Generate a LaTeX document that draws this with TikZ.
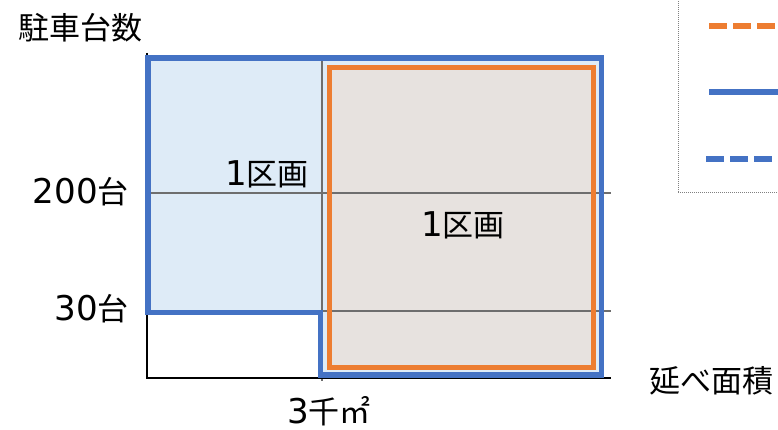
\documentclass[tikz,border=0pt]{standalone}
\usepackage{fontspec}
\setmainfont{Noto Sans CJK JP}
\newfontfamily\digitfont{DejaVu Sans}[Scale=1.1]
\newcommand{\dg}[1]{{\digitfont #1}}
\definecolor{chartblue}{HTML}{4472C4}
\definecolor{chartorange}{HTML}{ED7D31}
\definecolor{areablue}{HTML}{DEEBF7}
\definecolor{areagrey}{HTML}{E7E2DF}
\definecolor{gridgrey}{HTML}{6E6E6E}
\tikzset{
  lbl/.style={inner sep=0pt, font=\fontsize{31}{36}\selectfont},
  gridline/.style={gridgrey, line width=1.2pt},
  legline/.style={line width=6pt}
}
\begin{document}
\begin{tikzpicture}[x=1pt, y=-1pt]
        \useasboundingbox (0,0) rectangle (778,430);
        \clip (0,0) rectangle (778,430);

        % Areas
        \fill[areablue] (148,58) -- (601.5,58) -- (601.5,375) -- (320.5,375) -- (320.5,312.5) -- (148,312.5) -- cycle;
        \fill[areagrey] (329,67.5) rectangle (593.5,367.5);

        % Grid and axes
        \draw[gridline] (147,193) -- (611,193);
        \draw[gridline] (147,311) -- (611,311);
        \draw[gridline] (322,58) -- (322,381);
        \draw[black, line width=1.2pt] (147,53) -- (147,378) -- (611,378);

        % Frames
        \draw[chartblue, line width=5.5pt] (148,58) -- (601.5,58) -- (601.5,375) -- (320.5,375) -- (320.5,312.5) -- (148,312.5) -- cycle;
        \draw[chartorange, line width=5pt] (329,67.5) rectangle (593.5,367.5);

        % Labels
        \node[lbl] (yname) at (80,28) {駐車台数};
        \node[lbl, anchor=east] (y200) at (129,192) {\dg{200}台};
        \node[lbl, anchor=east] (y30) at (129,309) {\dg{30}台};
        \node[lbl] (xname) at (711,381) {延べ面積};
        \node[lbl, anchor=base] (x3) at (329,423) {\dg{3}千㎡};
        \node[lbl] (lotA) at (267,174) {\dg{1}区画};
        \node[lbl] (lotB) at (463,225) {\dg{1}区画};

        % Legend
        \draw[gray, densely dotted, line width=1pt] (678,-5) rectangle (790,193);
        \coordinate (legA) at (709,26);
        \coordinate (legB) at (709,92);
        \coordinate (legC) at (706,159);
        \draw[legline, chartorange, dash pattern=on 18pt off 6pt] (legA) -- ++(68,0);
        \draw[legline, chartblue] (legB) -- ++(75,0);
        \draw[legline, chartblue, dash pattern=on 18pt off 6pt] (legC) -- ++(68,0);
    \end{tikzpicture}
\end{document}
